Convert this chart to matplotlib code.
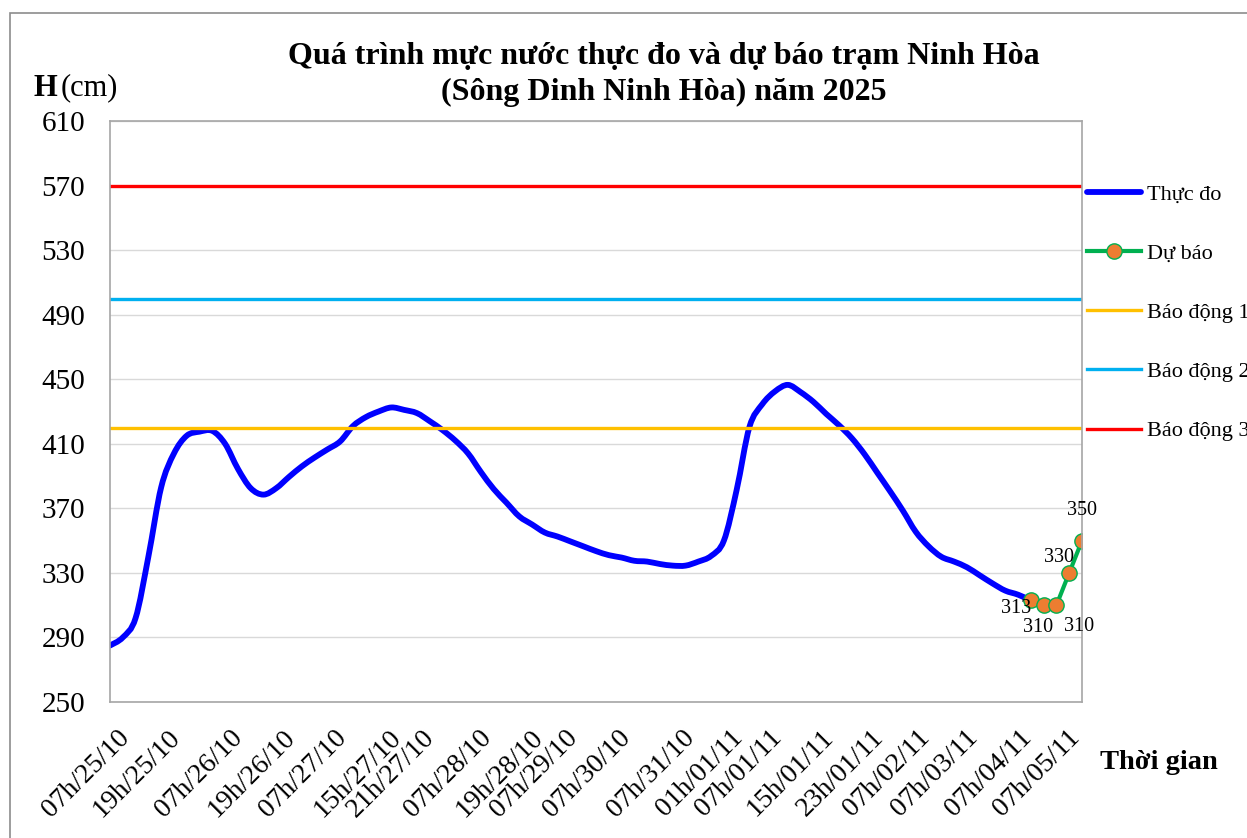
import numpy as np
import matplotlib
matplotlib.use("Agg")
import matplotlib.pyplot as plt
from matplotlib.patches import Rectangle, PathPatch
from matplotlib.path import Path
from matplotlib.lines import Line2D

plt.rcParams['font.family'] = ['Liberation Serif', 'DejaVu Serif']

# x tick labels
tick_labels = ["07h/25/10", "19h/25/10", "07h/26/10", "19h/26/10", "07h/27/10",
               "15h/27/10", "21h/27/10", "07h/28/10", "19h/28/10", "07h/29/10",
               "07h/30/10", "07h/31/10", "01h/01/11", "07h/01/11", "15h/01/11",
               "23h/01/11", "07h/02/11", "07h/03/11", "07h/04/11", "07h/05/11"]

# measured water level (cm), categories 0..72
thuc_do = [285, 290, 302, 340, 383, 404, 415, 417.5, 418, 410,
           394.5, 382.5, 378.5, 382.5, 389.5, 396, 401.5, 406.5, 411.5, 421,
           426.5, 430, 432.5, 431, 429, 424, 418.5, 412, 404, 392.5,
           382, 373.5, 365, 360, 355, 352.5, 349.5, 346.5, 343.5, 341,
           339.5, 337.5, 337, 335.5, 334.5, 334.5, 337, 340.5, 350, 381.5,
           420.5, 434.5, 442.5, 446.5, 442, 436, 428.5, 421.5, 413.5, 403.5,
           392, 380.5, 368.5, 355.5, 346.5, 340, 337, 333.5, 328.5, 323.5,
           319, 316.5, 313]

# forecast, categories 72..76
du_bao = [313, 310, 310, 330, 350]
du_bao_start = 72

n_cat = 77
bd1 = 420
bd2 = 500
bd3 = 570

# where the rotated labels sit along the category axis (layout only)
tick_pos = [1.2, 5.2, 10.1, 14.2, 18.2, 22.5, 25.1, 29.5, 33.6, 36.3,
            40.4, 45.4, 49.2, 52.2, 56.3, 60.2, 63.8, 67.6, 71.8, 75.5]


def smooth_path(xs, ys):
    # excel style smoothed line: catmull-rom turned into cubic bezier pieces
    p = np.column_stack([xs, ys]).astype(float)
    verts = [p[0]]
    codes = [Path.MOVETO]
    n = len(p)
    for i in range(n - 1):
        p0 = p[i - 1] if i > 0 else p[i]
        p3 = p[i + 2] if i + 2 < n else p[i + 1]
        c1 = p[i] + (p[i + 1] - p0) / 6
        c2 = p[i + 1] - (p3 - p[i]) / 6
        verts += [c1, c2, p[i + 1]]
        codes += [Path.CURVE4] * 3
    return Path(verts, codes)


fig = plt.figure(figsize=(12.47, 8.38), dpi=100)
ax = fig.add_axes([110 / 1247, 1 - 702 / 838, 972 / 1247, 581 / 838])

x_td = np.arange(len(thuc_do))
x_db = np.arange(du_bao_start, du_bao_start + len(du_bao))
x_all = np.arange(n_cat)

blue = '#0000FF'
ax.add_patch(PathPatch(smooth_path(x_td, thuc_do), fill=False, edgecolor=blue,
                       lw=4.2, capstyle='round', joinstyle='round'))
ax.plot(x_db, du_bao, color='#00B050', lw=3, marker='o', ms=11,
        mfc='#ED7D31', mec='#00B050', mew=1)
ax.plot(x_all, [bd1] * n_cat, color='#FFC000', lw=2.4)
ax.plot(x_all, [bd2] * n_cat, color='#00B0F0', lw=2.4)
ax.plot(x_all, [bd3] * n_cat, color='#FF0000', lw=2.4)

# data labels on forecast points
offs = [(-11, -6), (-4, -16), (16, -15), (-7, 11), (0, 22)]
for xi, v, o in zip(x_db, du_bao, offs):
    ax.annotate(str(v), (xi, v), xytext=o, textcoords='offset points',
                ha='center', va='center', fontsize=14.5)

ax.set_xlim(0, n_cat - 1)
ax.set_ylim(250, 610)
ax.set_yticks(np.arange(250, 611, 40))
ax.set_xticks(tick_pos)
ax.set_xticklabels(tick_labels, rotation=45, ha='right', va='center',
                   rotation_mode='anchor')
ax.tick_params(axis='y', length=0, pad=18, labelsize=21)
ax.tick_params(axis='x', length=0, pad=23, labelsize=20)
ax.grid(axis='y', color='#D9D9D9', lw=1)
ax.set_axisbelow(True)
for s in ax.spines.values():
    s.set_color('#A6A6A6')
    s.set_linewidth(1.2)

fig.text(0.532, 0.911, "Quá trình mực nước thực đo và dự báo trạm Ninh Hòa\n(Sông Dinh Ninh Hòa) năm 2025",
         ha='center', va='center', fontsize=23, fontweight='bold', linespacing=1.29)
fig.text(33 / 1247, 1 - 88 / 838, "H", ha='left', va='center', fontsize=22, fontweight='bold')
fig.text(61 / 1247, 1 - 88 / 838, "(cm)", ha='left', va='center', fontsize=22)
fig.text(1100 / 1247, 1 - 762 / 838, "Thời gian", ha='left', va='center', fontsize=20.5, fontweight='bold')

handles = [
    Line2D([], [], color=blue, lw=4.2, solid_capstyle='round'),
    Line2D([], [], color='#00B050', lw=3, marker='o', ms=11, mfc='#ED7D31', mec='#00B050', mew=1),
    Line2D([], [], color='#FFC000', lw=2.4),
    Line2D([], [], color='#00B0F0', lw=2.4),
    Line2D([], [], color='#FF0000', lw=2.4),
]
labels = ['Thực đo', 'Dự báo', 'Báo động 1', 'Báo động 2', 'Báo động 3']
fig.legend(handles, labels, loc='upper left', bbox_to_anchor=(1087 / 1247, 1 - 184 / 838), frameon=False,
           fontsize=16, handlelength=2.45, handletextpad=0.25, labelspacing=1.74,
           borderpad=0, borderaxespad=0)

# outer chart border (cut by the picture edge)
fig.patches.append(Rectangle((10 / 1247, -0.2), 1.5, 1.2 - 13 / 838, transform=fig.transFigure,
                             fill=False, edgecolor='#8C8C8C', lw=1.2))

fig.savefig("out.png", dpi=100)
